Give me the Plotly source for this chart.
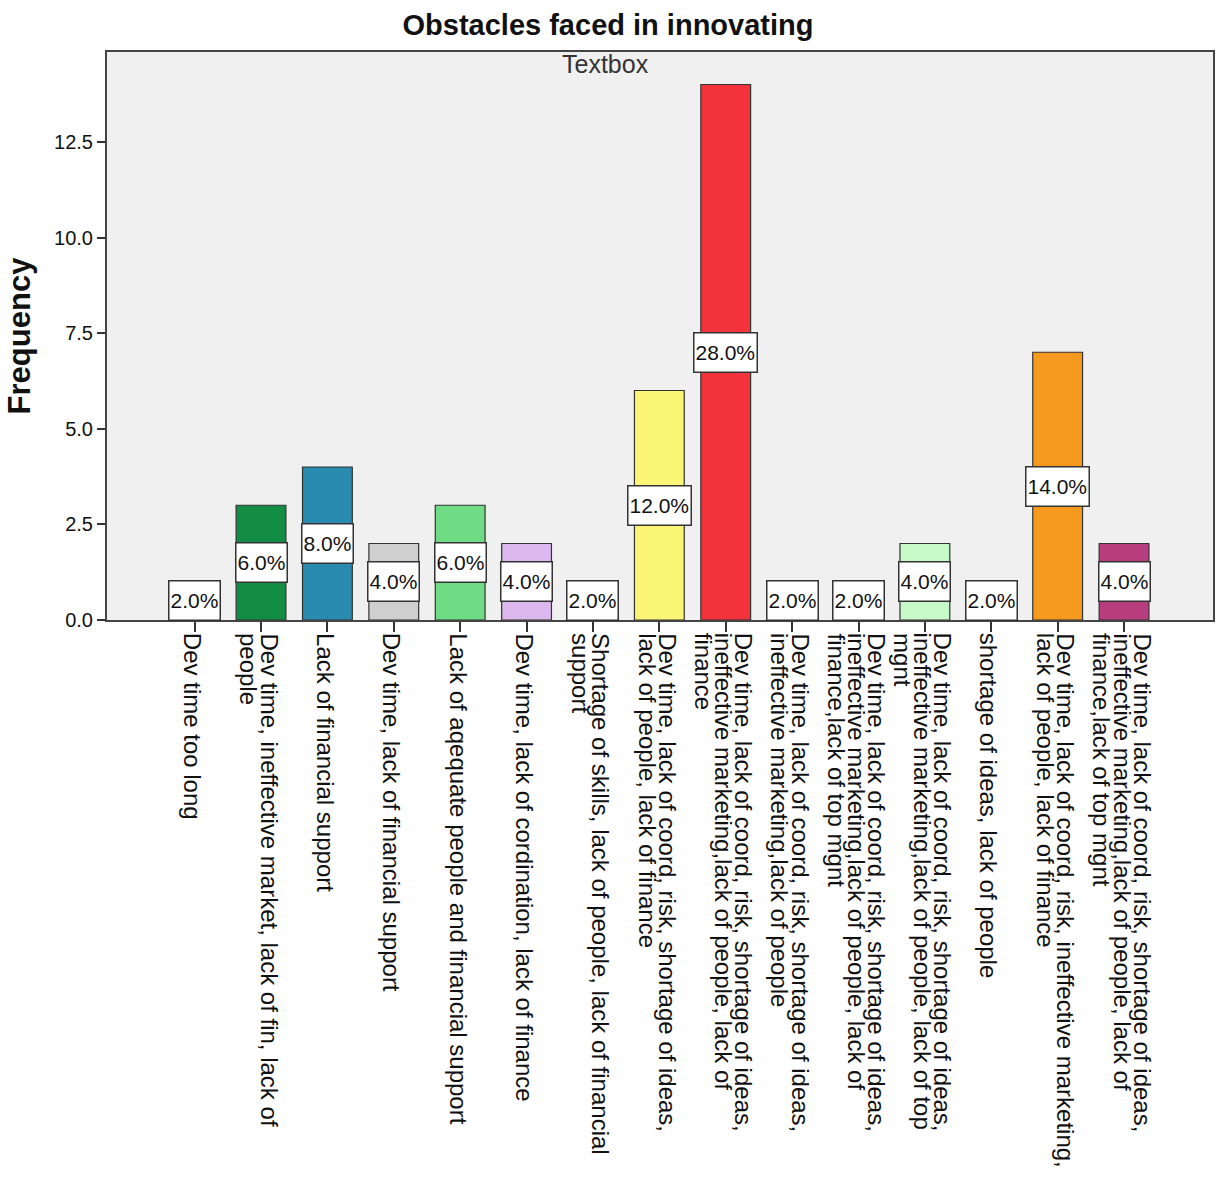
import plotly.graph_objects as go

# Response categories (line breaks follow the wrapped axis labels)
categories = [
    "Dev time too long",
    "Dev time, ineffective market, lack of fin, lack of<br>people",
    "Lack of financial support",
    "Dev time, lack of financial support",
    "Lack of aqequate people and financial support",
    "Dev time, lack of cordination, lack of finance",
    "Shortage of skills, lack of people, lack of financial<br>support",
    "Dev time, lack of coord, risk, shortage of ideas,<br>lack of people, lack of finance",
    "Dev time, lack of coord, risk, shortage of ideas,<br>ineffective marketing,lack of people, lack of<br>finance",
    "Dev time, lack of coord, risk, shortage of ideas,<br>ineffective marketing,lack of people",
    "Dev time, lack of coord, risk, shortage of ideas,<br>ineffective marketing,lack of people, lack of<br>finance,lack of top mgnt",
    "Dev time, lack of coord, risk, shortage of ideas,<br>ineffective marketing,lack of people, lack of top<br>mgnt",
    "shortage of ideas, lack of people",
    "Dev time, lack of coord, risk, ineffective marketing,<br>lack of people, lack of finance",
    "Dev time, lack of coord, risk, shortage of ideas,<br>ineffective marketing,lack of people, lack of<br>finance,lack of top mgnt",
]
frequency = [1, 3, 4, 2, 3, 2, 1, 6, 14, 1, 1, 2, 1, 7, 2]
percent = [2.0, 6.0, 8.0, 4.0, 6.0, 4.0, 2.0, 12.0, 28.0, 2.0, 2.0, 4.0, 2.0, 14.0, 4.0]
bar_colors = [
    "#5b7fc4", "#138d46", "#2a8bb1", "#cfcfcf", "#6fdc85",
    "#dcb8ee", "#a8a8a8", "#faf574", "#f2333c", "#8a6fc0",
    "#4aa6a6", "#c8f9c8", "#d9a35c", "#f6991f", "#b83d7d",
]
y_ticks = [0.0, 2.5, 5.0, 7.5, 10.0, 12.5]

FONT = "Liberation Sans, Arial, sans-serif"
LABEL_SIZE = 24      # category label font size
LINE_STEP = 20       # spacing between wrapped label lines (px)
positions = list(range(len(categories)))

fig = go.Figure(
    go.Bar(
        x=positions,
        y=frequency,
        width=0.75,
        marker=dict(color=bar_colors, line=dict(color="#333333", width=1.2)),
        hoverinfo="skip",
    )
)

# Percentage boxes in the middle of each bar
for xi, f, p in zip(positions, frequency, percent):
    fig.add_annotation(
        x=xi, y=f / 2, xref="x", yref="y",
        text=f"{p:.1f}%", showarrow=False,
        font=dict(family=FONT, size=21, color="#111111"),
        bgcolor="#ffffff", bordercolor="#333333", borderwidth=1.5,
        borderpad=1, height=36, valign="middle",
    )

# Vertical category labels under the axis, one annotation per wrapped line
for xi, label in zip(positions, categories):
    lines = label.split("<br>")
    n = len(lines)
    for j, line in enumerate(lines):
        fig.add_annotation(
            x=xi, y=0, xref="x", yref="y",
            text=line, showarrow=False, textangle=90,
            xanchor="center", yanchor="top",
            xshift=((n - 1) / 2 - j) * LINE_STEP - 2, yshift=-11,
            font=dict(family=FONT, size=LABEL_SIZE, color="#111111"),
        )

fig.add_annotation(
    x=0.4504, y=0.979, xref="paper", yref="paper",
    text="Textbox", showarrow=False, yanchor="middle",
    font=dict(family=FONT, size=25, color="#333333"),
)

fig.update_layout(
    width=1216, height=1178,
    margin=dict(l=107, r=1, t=52, b=558),
    paper_bgcolor="#ffffff",
    plot_bgcolor="#f0f0f0",
    showlegend=False,
    title=dict(
        text="<b>Obstacles faced in innovating</b>",
        x=0.5, xref="container", xanchor="center",
        y=1 - 25 / 1178, yref="container", yanchor="middle",
        font=dict(family=FONT, size=29, color="#111111"),
    ),
    xaxis=dict(
        range=[-1.32, 15.34],
        tickmode="array", tickvals=positions, showticklabels=False,
        ticks="outside", ticklen=10, tickwidth=1.5, tickcolor="#333333",
        showline=True, linecolor="#444444", linewidth=2, mirror=True,
        showgrid=False, zeroline=False,
    ),
    yaxis=dict(
        range=[0, 14.85],
        tickmode="array", tickvals=y_ticks, tickformat=".1f",
        ticks="outside", ticklen=8, tickwidth=1.5, tickcolor="#333333",
        tickfont=dict(family=FONT, size=20, color="#111111"),
        showline=True, linecolor="#444444", linewidth=2, mirror=True,
        showgrid=False, zeroline=False,
        title=dict(
            text="<b>Frequency</b>", standoff=14,
            font=dict(family=FONT, size=31, color="#111111"),
        ),
    ),
)

fig.write_html("out.html")
